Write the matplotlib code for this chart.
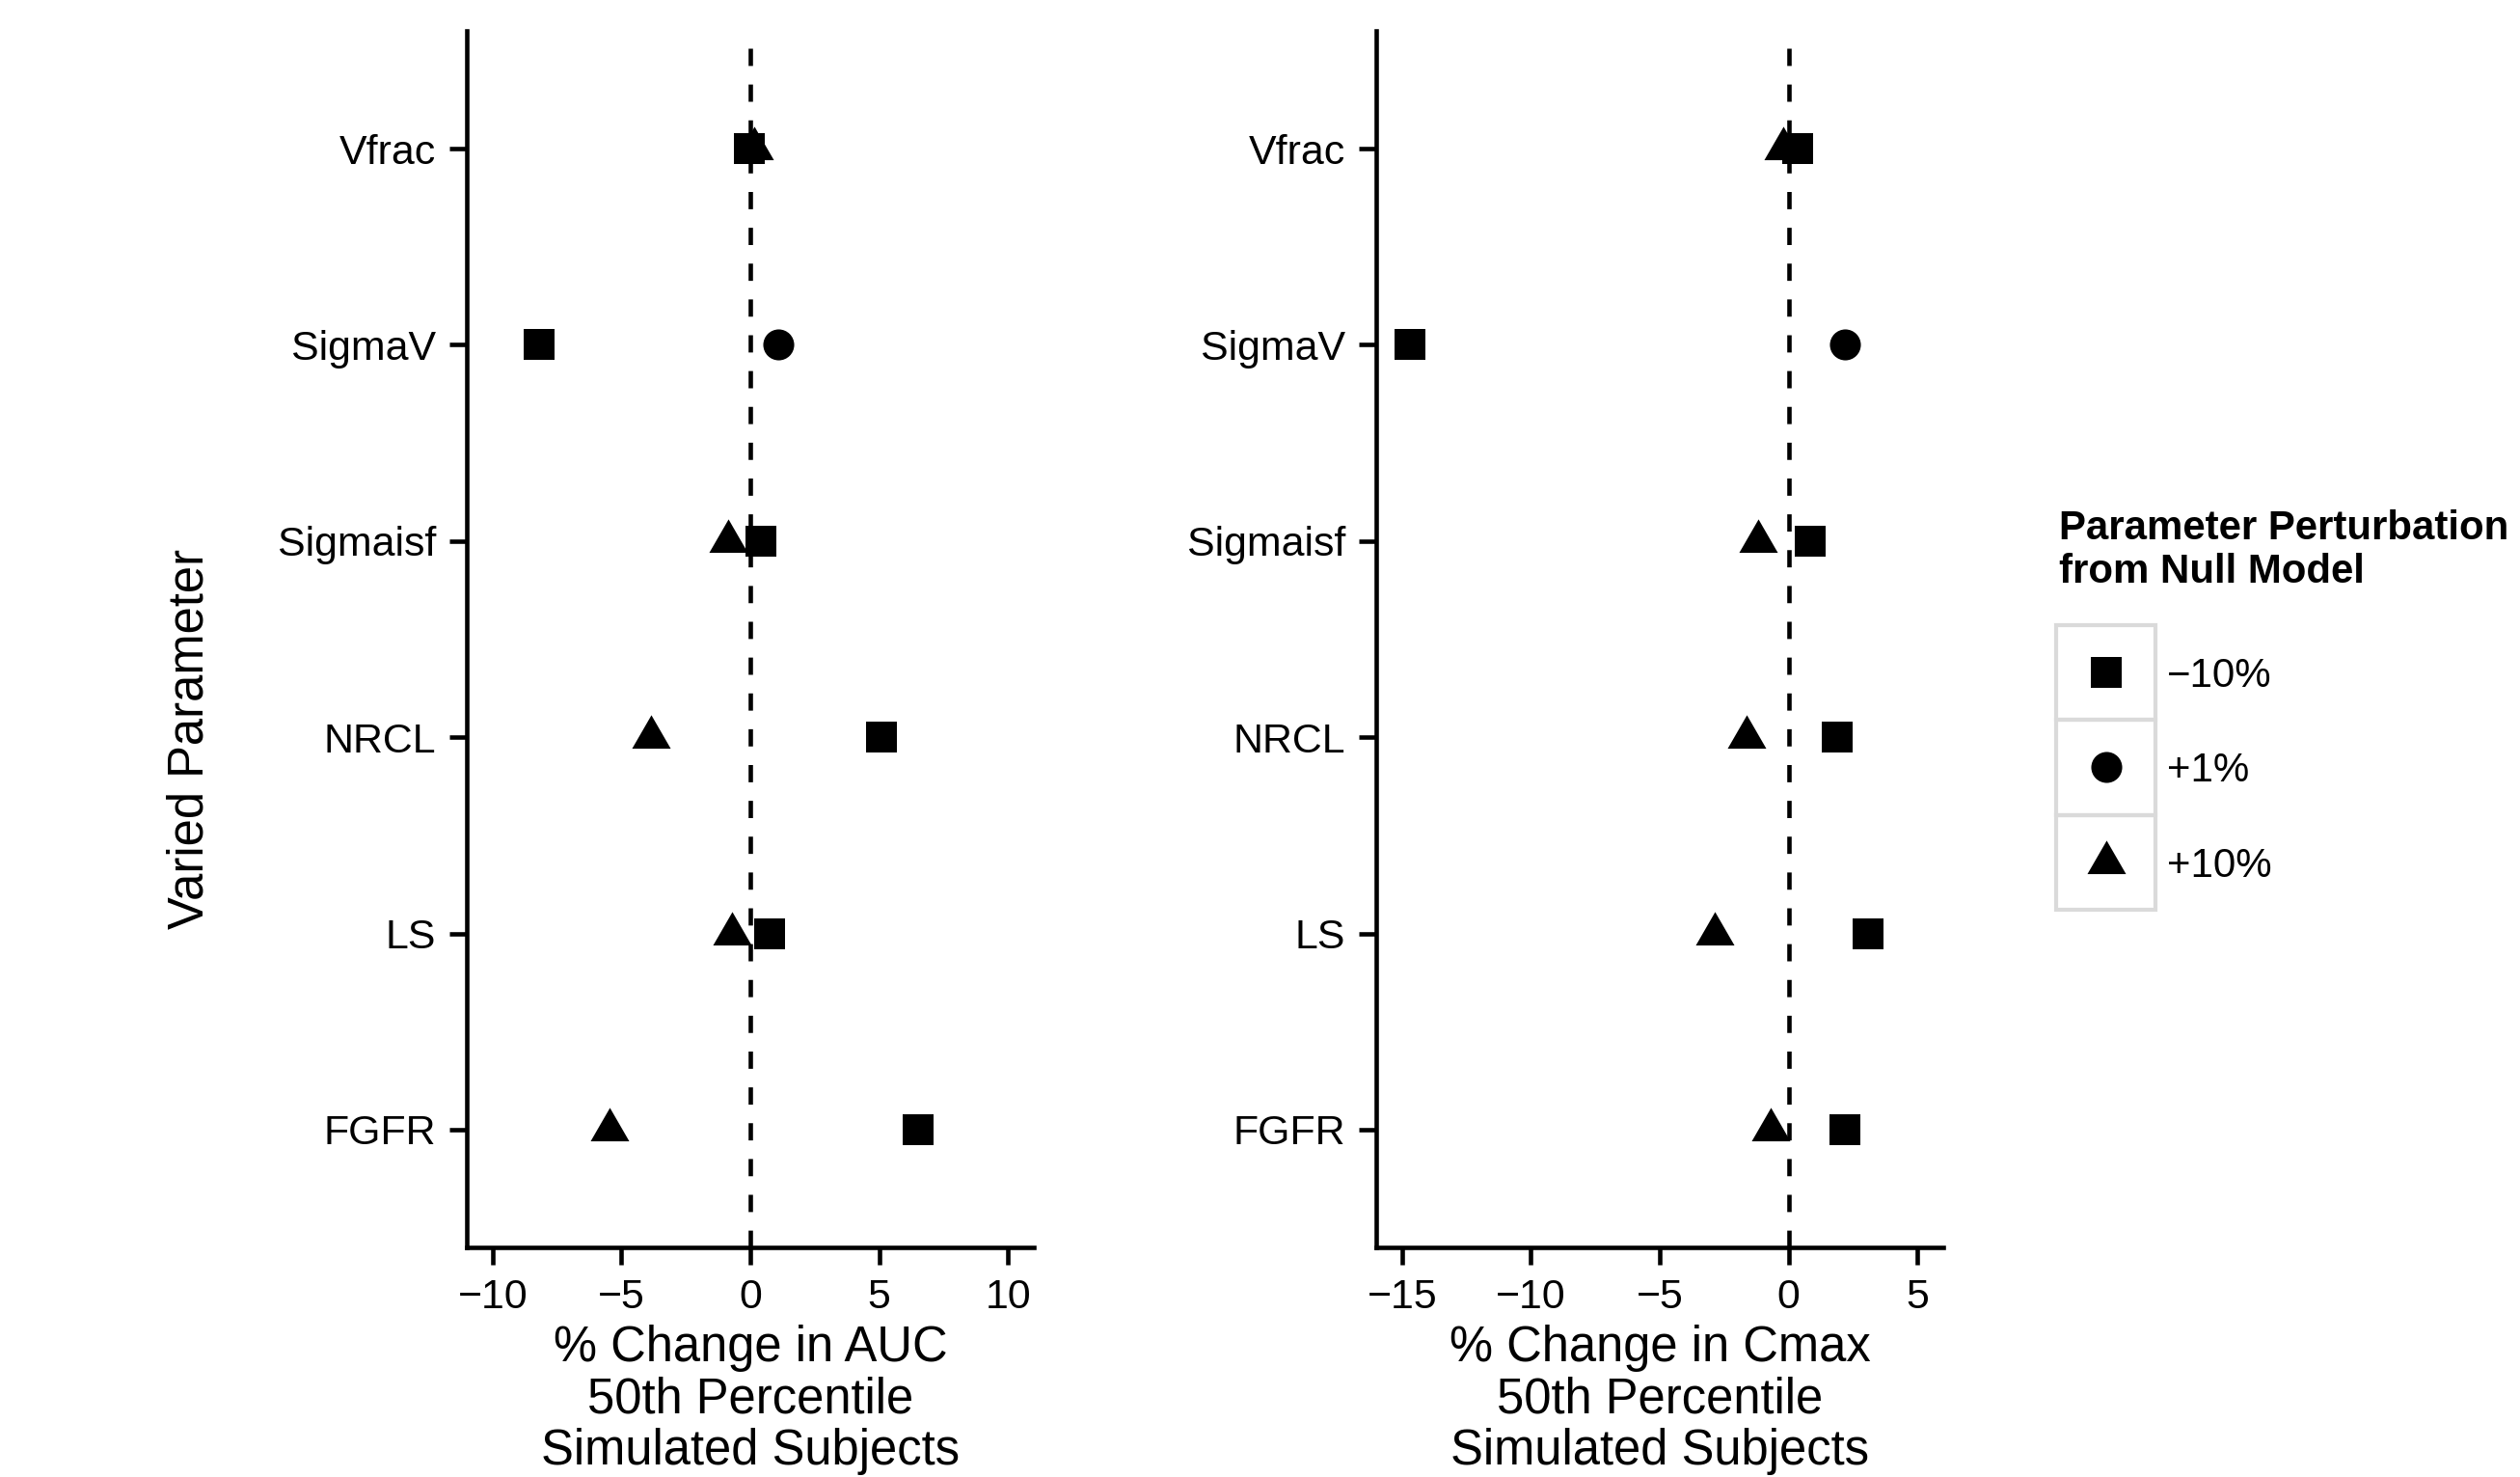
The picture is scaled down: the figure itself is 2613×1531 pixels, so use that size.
import numpy as np
import matplotlib
matplotlib.use("Agg")
import matplotlib.pyplot as plt
from matplotlib.patches import Rectangle

plt.rcParams['font.family'] = ['Liberation Sans', 'DejaVu Sans']

# data (% change, 50th percentile)
params = ['Vfrac', 'SigmaV', 'Sigmaisf', 'NRCL', 'LS', 'FGFR']
nan = np.nan
auc_minus10 = [-0.05, -8.2, 0.4, 5.1, 0.75, 6.5]
auc_plus1 = [nan, 1.1, nan, nan, nan, nan]
auc_plus10 = [0.15, nan, -0.85, -3.85, -0.7, -5.45]
cmax_minus10 = [0.35, -14.7, 0.85, 1.9, 3.1, 2.2]
cmax_plus1 = [nan, 2.2, nan, nan, nan, nan]
cmax_plus10 = [-0.2, nan, -1.2, -1.65, -2.85, -0.7]

perturb_labels = ['\u221210%', '+1%', '+10%']
xlabels = ['% Change in AUC\n50th Percentile\nSimulated Subjects',
           '% Change in Cmax\n50th Percentile\nSimulated Subjects']
xlims = [(-11, 11), (-16, 6)]
xticks = [[-10, -5, 0, 5, 10], [-15, -10, -5, 0, 5]]

# ggplot-like centred triangle
tri = [(0, 1), (-0.866, -0.5), (0.866, -0.5)]
markers = ['s', 'o', tri]
msizes = [7.7, 7.7, 11.1]

W, H = 2613, 1531
fig = plt.figure(figsize=(W / 300, H / 300), dpi=300)

ypos = np.arange(len(params))[::-1] + 1
panels = [(auc_minus10, auc_plus1, auc_plus10),
          (cmax_minus10, cmax_plus1, cmax_plus10)]
lefts = [484 / W, 1427 / W]

for i, series in enumerate(panels):
    ax = fig.add_axes([lefts[i], 1 - 1293 / H, 588 / W, 1261 / H])
    ax.axvline(0, color='black', lw=1.1, ls=(0, (3.9, 4.2)), zorder=1)
    for vals, m, ms in zip(series, markers, msizes):
        ax.plot(vals, ypos, ls='none', marker=m, ms=ms, color='black',
                mew=0, zorder=3)
    ax.set_xlim(*xlims[i])
    ax.set_ylim(0.4, len(params) + 0.6)
    ax.set_xticks(xticks[i])
    ax.set_yticks(ypos)
    ax.set_yticklabels(params)
    for s in ['top', 'right']:
        ax.spines[s].set_visible(False)
    for s in ['left', 'bottom']:
        ax.spines[s].set_linewidth(1.1)
    ax.tick_params(length=4.4, width=1.1, pad=3.2, labelsize=10.3,
                   colors='black')
    ax.set_xlabel(xlabels[i], fontsize=12.2, linespacing=1.12, labelpad=2)

fig.text(197 / W, 0.5, 'Varied Parameter', rotation=90, ha='center',
         va='center', fontsize=12.2)

# legend drawn by hand in pixel space
lax = fig.add_axes([0, 0, 1, 1])
lax.set_xlim(0, W)
lax.set_ylim(H, 0)
lax.axis('off')
lax.text(2135, 528, 'Parameter Perturbation\nfrom Null Model', fontsize=10.1,
         fontweight='bold', ha='left', va='top', linespacing=1.15)
box_x, box_y, box_w, box_h = 2132, 648, 103, 98.3
for k, lab in enumerate(perturb_labels):
    y0 = box_y + k * box_h
    lax.add_patch(Rectangle((box_x, y0), box_w, box_h, fill=False,
                            ec='#DADADA', lw=1.0))
    lax.plot(box_x + box_w / 2, y0 + box_h / 2, marker=markers[k],
             ms=msizes[k], color='black', mew=0)
    lax.text(2247, y0 + box_h / 2 + 4, lab, fontsize=10.1, ha='left',
             va='center')

fig.savefig('out.png', dpi=300)
